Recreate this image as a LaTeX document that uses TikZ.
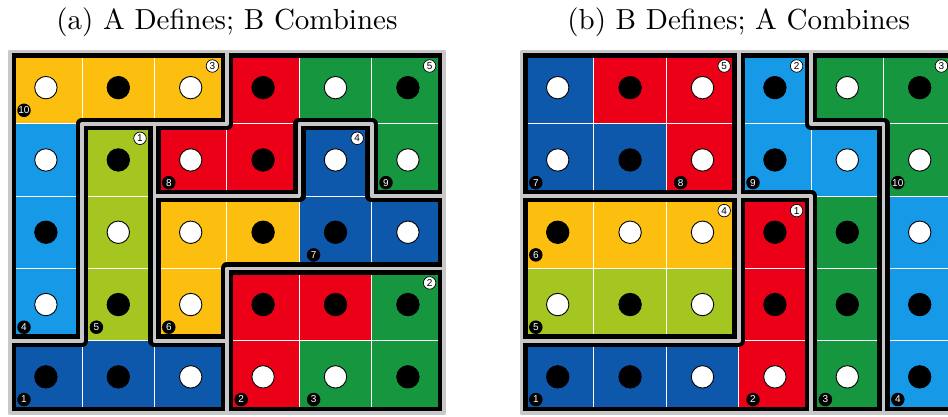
\documentclass[tikz,border=0pt]{standalone}
\usepackage{graphicx}
\usepackage{fontspec}
\newfontfamily\labfont{Liberation Sans}

% tile colours
\definecolor{cO}{HTML}{FCBF10}
\definecolor{cR}{HTML}{EB0017}
\definecolor{cG}{HTML}{179640}
\definecolor{cD}{HTML}{0E58AB}
\definecolor{cL}{HTML}{1699E6}
\definecolor{cM}{HTML}{A5C521}
% dot colours
\definecolor{dotW}{HTML}{FFFFFF}
\definecolor{dotB}{HTML}{000000}
% piece rim
\definecolor{rim}{HTML}{C8C8C8}

\tikzset{
  board/.style={x=72.4pt, y=-72.3pt},
  edgeblack/.style={line width=12.6pt, line join=round, draw=black},
  edgegray/.style={line width=3.6pt, line join=round, draw=rim},
  cellline/.style={draw=white, line width=1.1pt},
  wlab/.style={circle, draw=black, fill=white, line width=0.7pt, minimum size=12.5pt,
    inner sep=0pt, text=black, font=\labfont\fontsize{10}{10}\selectfont},
  blab/.style={circle, fill=black, minimum size=13.5pt, inner sep=0pt, text=white,
    font=\labfont\fontsize{10}{10}\selectfont},
  caption/.style={anchor=base, inner sep=0pt},
}

% fill the 6x5 cells, one row list per row
\newcommand\paintcells[1]{%
  \foreach \rowlist [count=\r from 0] in {#1} {
    \foreach \c [count=\k from 0] in \rowlist {
      \fill[fill=c\c] (\k,\r) rectangle ++(1,1);
    }
  }
  \foreach \i in {1,...,5} \draw[cellline] (\i,0) -- (\i,5);
  \foreach \j in {1,...,4} \draw[cellline] (0,\j) -- (6,\j);
}

% white and black dots, same pattern on both boards
\newcommand\paintdots{%
  \foreach \rowlist [count=\r from 0] in
    {{W,B,W,B,W,B},{W,B,W,B,W,W},{B,W,W,B,B,W},{W,B,W,B,B,B},{B,B,W,W,W,B}} {
    \foreach \c [count=\k from 0] in \rowlist {
      \filldraw[fill=dot\c, draw=black, line width=0.9pt]
        (\k+0.5,\r+0.5) circle[radius=11.2pt];
    }
  }
}

% piece outlines of board (a)
\def\piecesA{
  (0,0) -- (3,0) -- (3,1) -- (1,1) -- (1,4) -- (0,4) -- cycle
  (1,1) -- (2,1) -- (2,4) -- (3,4) -- (3,5) -- (0,5) -- (0,4) -- (1,4) -- cycle
  (3,0) -- (6,0) -- (6,2) -- (5,2) -- (5,1) -- (4,1) -- (4,2) -- (2,2) -- (2,1) -- (3,1) -- cycle
  (4,1) -- (5,1) -- (5,2) -- (6,2) -- (6,3) -- (3,3) -- (3,4) -- (2,4) -- (2,2) -- (4,2) -- cycle
  (3,3) -- (6,3) -- (6,5) -- (3,5) -- cycle
}
% piece outlines of board (b)
\def\piecesB{
  (0,0) -- (3,0) -- (3,2) -- (0,2) -- cycle
  (3,0) -- (4,0) -- (4,1) -- (5,1) -- (5,5) -- (4,5) -- (4,2) -- (3,2) -- cycle
  (4,0) -- (6,0) -- (6,5) -- (5,5) -- (5,1) -- (4,1) -- cycle
  (0,2) -- (3,2) -- (3,4) -- (0,4) -- cycle
  (3,2) -- (4,2) -- (4,5) -- (0,5) -- (0,4) -- (3,4) -- cycle
}

\begin{document}
\begin{tikzpicture}
\useasboundingbox (0,0) rectangle (948pt,-416pt);
\clip (0,0) rectangle (948pt,-416pt);

\node[caption] (capA) at (226.9pt,-29pt) {\scalebox{2.9}{(a) A Defines; B Combines}};
\node[caption] (capB) at (738.7pt,-29pt) {\scalebox{2.9}{(b) B Defines; A Combines}};

% ---- board (a)
\begin{scope}[board, shift={(9.7pt,-51.5pt)}]
  \paintcells{{O,O,O,R,G,G},{L,M,R,R,D,G},{L,M,O,O,D,D},{L,M,O,R,R,G},{D,D,D,R,G,G}}
  \begin{scope}
    \clip (0,0) rectangle (6,5);
    \draw[edgeblack] \piecesA;
  \end{scope}
  \draw[edgegray] \piecesA;
  \paintdots
  \foreach \x/\y/\t in {3/1/3, 2/2/1, 6/1/5, 5/2/4, 6/4/2}
    \node[wlab] (aw\x\y) at (\x,\y-1) [xshift=-14.5pt, yshift=-14.5pt] {\t};
  \foreach \x/\y/\t in {1/1/10, 1/4/4, 2/4/5, 1/5/1, 3/2/8, 6/2/9, 5/3/7, 3/4/6, 4/5/2, 5/5/3}
    \node[blab] (ab\x\y) at (\x-1,\y) [xshift=14.3pt, yshift=13.5pt] {\t};
\end{scope}

% ---- board (b)
\begin{scope}[board, shift={(521.5pt,-51.5pt)}]
  \paintcells{{D,R,R,L,G,G},{D,D,R,L,L,G},{O,O,O,R,G,L},{M,M,M,R,G,L},{D,D,D,R,G,L}}
  \begin{scope}
    \clip (0,0) rectangle (6,5);
    \draw[edgeblack] \piecesB;
  \end{scope}
  \draw[edgegray] \piecesB;
  \paintdots
  \foreach \x/\y/\t in {3/1/5, 4/1/2, 6/1/3, 3/3/4, 4/3/1}
    \node[wlab] (bw\x\y) at (\x,\y-1) [xshift=-14.5pt, yshift=-14.5pt] {\t};
  \foreach \x/\y/\t in {1/2/7, 3/2/8, 4/2/9, 6/2/10, 1/3/6, 1/4/5, 1/5/1, 4/5/2, 5/5/3, 6/5/4}
    \node[blab] (bb\x\y) at (\x-1,\y) [xshift=14.3pt, yshift=13.5pt] {\t};
\end{scope}
\end{tikzpicture}
\end{document}
